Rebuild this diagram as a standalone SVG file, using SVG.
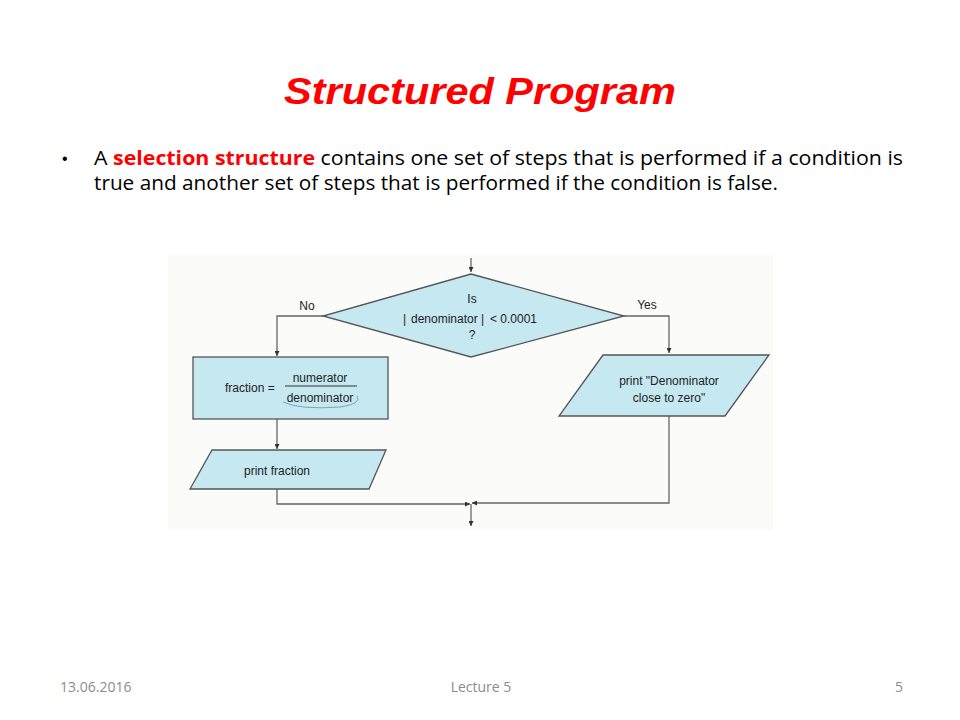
<svg xmlns="http://www.w3.org/2000/svg" width="960" height="720" viewBox="0 0 960 720">
<defs>
<style>
.shape{fill:#c6e8f1;stroke:#555;stroke-width:1.3}
.conn{fill:none;stroke:#666;stroke-width:1.3}
.ft{font-family:"Liberation Sans",Arial,sans-serif;fill:#222;font-size:12px}
.foot{font-family:"Open Sans","Liberation Sans",sans-serif;fill:#8c8c8c;font-size:14px}
.body{font-family:"Open Sans","Liberation Sans",sans-serif;fill:#000;font-size:19.5px}
</style>
<marker id="ah" viewBox="0 0 10 10" refX="10" refY="5" markerWidth="5" markerHeight="5" orient="auto" markerUnits="userSpaceOnUse">
<path d="M0,0 L10,5 L0,10 z" fill="#333"/>
</marker>
</defs>
<rect width="960" height="720" fill="#fff"/>
<rect x="168" y="255" width="605" height="275" fill="#fbfbf9"/>
<text x="480" y="104" text-anchor="middle" font-family="'Liberation Sans',Arial,sans-serif" font-weight="bold" font-style="italic" font-size="36" fill="#ff0000" textLength="392" lengthAdjust="spacingAndGlyphs">Structured Program</text>
<text x="62" y="164" font-family="'Liberation Sans',sans-serif" font-size="16" fill="#000">•</text>
<text class="body" x="94" y="165" textLength="809" lengthAdjust="spacingAndGlyphs">A <tspan fill="#ff0000" font-weight="bold">selection structure</tspan> contains one set of steps that is performed if a condition is</text>
<text class="body" x="94" y="190" textLength="684" lengthAdjust="spacingAndGlyphs">true and another set of steps that is performed if the condition is false.</text>
<g id="connectors">
<path class="conn" d="M471,258 L471,272" marker-end="url(#ah)"/>
<path class="conn" d="M323,316 L277,316 L277,356" marker-end="url(#ah)"/>
<path class="conn" d="M624,316 L669,316 L669,353" marker-end="url(#ah)"/>
<path class="conn" d="M277,419 L277,449" marker-end="url(#ah)"/>
<path class="conn" d="M277,489 L277,504 L470,504" marker-end="url(#ah)"/>
<path class="conn" d="M669,416 L669,503 L472,503" marker-end="url(#ah)"/>
<path class="conn" d="M471,504 L471,526" marker-end="url(#ah)"/>
</g>
<g id="decision">
<polygon class="shape" points="471,274 624,316 471,357 323,316"/>
<text class="ft" x="472" y="303" text-anchor="middle">Is</text>
<text class="ft" x="403" y="323">|</text>
<text class="ft" x="411" y="323">denominator</text>
<text class="ft" x="481" y="323">|</text>
<text class="ft" x="490" y="323">&lt; 0.0001</text>
<text class="ft" x="472" y="339" text-anchor="middle">?</text>
<text class="ft" x="307" y="310" text-anchor="middle">No</text>
<text class="ft" x="647" y="309" text-anchor="middle">Yes</text>
</g>
<g id="assign">
<rect class="shape" x="193" y="357" width="195" height="62"/>
<text class="ft" x="225" y="392">fraction =</text>
<text class="ft" x="320" y="382" text-anchor="middle">numerator</text>
<line x1="285" y1="386" x2="357" y2="386" stroke="#333" stroke-width="1"/>
<text class="ft" x="320" y="402" text-anchor="middle">denominator</text>
<path d="M283,402 Q300,410 340,407 Q362,404 357,396" fill="none" stroke="#6a8fa8" stroke-width="0.8"/>
</g>
<g id="print-fraction">
<polygon class="shape" points="212,450 386,450 369,489 190,489"/>
<text class="ft" x="277" y="475" text-anchor="middle">print fraction</text>
</g>
<g id="print-zero">
<polygon class="shape" points="603,355 769,355 725,416 559,416"/>
<text class="ft" x="669" y="385" text-anchor="middle">print  "Denominator</text>
<text class="ft" x="669" y="402" text-anchor="middle">close to zero"</text>
</g>
<text class="foot" x="60" y="692">13.06.2016</text>
<text class="foot" x="481" y="692" text-anchor="middle">Lecture 5</text>
<text class="foot" x="903" y="692" text-anchor="end">5</text>
</svg>
